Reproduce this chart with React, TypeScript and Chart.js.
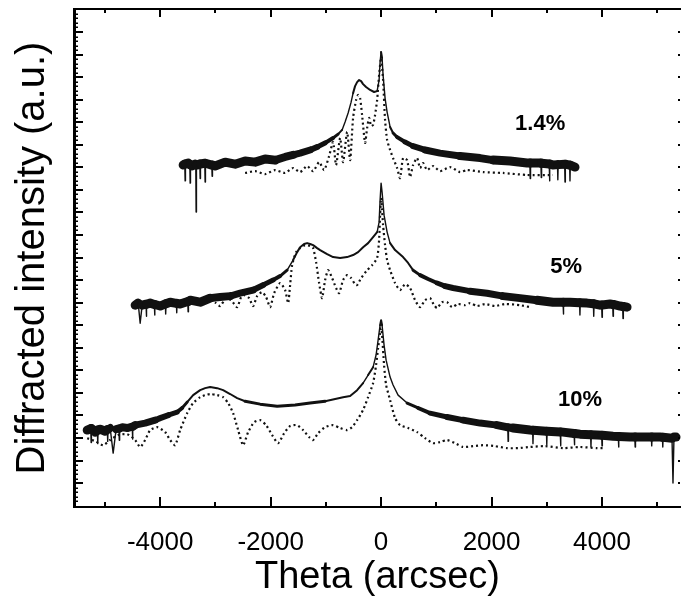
import React, { useEffect, useRef } from "react";
import { Chart, registerables } from "chart.js";

Chart.register(...registerables);

// ---- axis settings ----
const X_MIN = -5560;
const X_MAX = 5430;
const Y_MIN = -0.06;
const Y_MAX = 22.02;
const xMajorTicks = [-4000, -2000, 0, 2000, 4000];
const xMinorTicks = [-5000, -3000, -1000, 1000, 3000, 5000];
const yMajorTicks = [1, 2, 3, 4, 5, 6, 7, 8, 9, 10, 11, 12, 13, 14, 15, 16, 17, 18, 19, 20, 21];

// ---- annotations ----
const seriesLabels = ["1.4%", "5%", "10%"];
const labelTheta = [2880, 3350, 3600];
const labelLevel = [16.92, 10.58, 4.68];

// ---- 1.4% ----
const meas14X = [-3584, -3554, -3548, -3542, -3493, -3463, -3457, -3451, -3421, -3367, -3355, -3349, -3343, -3330, -3282, -3276, -3270, -3192, -3186, -3180, -3065, -3059, -3053, -3005, -2824, -2643, -2462, -2281, -2100, -1919, -1738, -1593, -1466, -1285, -1158, -1014, -869, -778, -706, -652, -597, -543, -507, -471, -434, -398, -362, -326, -272, -199, -127, -72, -36, -18, 0, 18, 36, 72, 109, 163, 217, 290, 434, 579, 796, 1068, 1430, 1792, 2027, 2335, 2643, 2694, 2700, 2706, 2878, 2894, 2900, 2906, 3044, 3050, 3056, 3113, 3194, 3200, 3206, 3324, 3330, 3336, 3414, 3420, 3426, 3511];
const meas14Y = [15.10, 15.15, 14.40, 15.15, 15.19, 15.12, 14.30, 15.12, 15.06, 15.14, 15.12, 13.02, 15.10, 15.10, 15.15, 14.50, 15.15, 15.18, 14.35, 15.18, 15.10, 14.60, 15.10, 15.06, 15.23, 15.14, 15.28, 15.23, 15.37, 15.32, 15.46, 15.55, 15.63, 15.77, 15.90, 16.08, 16.30, 16.47, 16.66, 17.01, 17.41, 17.89, 18.29, 18.60, 18.78, 18.87, 18.82, 18.69, 18.56, 18.43, 18.34, 18.38, 18.87, 19.67, 20.11, 19.85, 19.09, 18.07, 17.45, 16.79, 16.52, 16.34, 16.12, 15.94, 15.77, 15.63, 15.50, 15.41, 15.32, 15.28, 15.19, 15.19, 14.50, 15.19, 15.19, 15.18, 14.55, 15.18, 15.15, 14.40, 15.15, 15.10, 15.12, 14.45, 15.12, 15.14, 14.35, 15.14, 15.10, 14.40, 15.10, 15.01];
const sim14X = [-2462, -2281, -2100, -1919, -1738, -1593, -1466, -1339, -1231, -1122, -1032, -941, -869, -815, -742, -688, -615, -561, -507, -453, -416, -380, -344, -290, -253, -217, -181, -145, -109, -72, -36, 0, 36, 72, 109, 163, 217, 290, 344, 398, 471, 525, 579, 652, 706, 760, 833, 941, 1068, 1249, 1430, 1557, 1846, 2208, 2643, 3113];
const sim14Y = [14.75, 14.83, 14.70, 14.88, 14.75, 14.97, 14.79, 15.06, 14.83, 15.23, 14.88, 15.50, 16.12, 15.10, 16.30, 15.23, 16.57, 15.32, 17.19, 17.98, 18.21, 18.07, 17.32, 16.08, 16.74, 17.19, 16.83, 16.88, 17.32, 17.98, 19.09, 19.85, 18.87, 17.10, 16.21, 15.77, 15.41, 14.97, 14.52, 15.41, 15.32, 14.57, 15.10, 15.41, 14.97, 15.19, 14.88, 15.06, 14.83, 15.01, 14.79, 14.88, 14.79, 14.75, 14.66, 14.66];

// ---- 5% ----
const meas5X = [-4453, -4398, -4362, -4326, -4256, -4250, -4244, -4181, -4106, -4100, -4094, -4000, -3906, -3900, -3894, -3819, -3706, -3700, -3694, -3638, -3500, -3494, -3488, -3457, -3276, -3095, -2914, -2733, -2552, -2317, -2136, -1955, -1828, -1701, -1593, -1520, -1466, -1394, -1339, -1285, -1231, -1158, -1104, -977, -869, -742, -615, -507, -416, -326, -235, -145, -72, -36, -18, 0, 18, 54, 109, 163, 253, 398, 489, 579, 706, 851, 1014, 1158, 1303, 1611, 1919, 2208, 2516, 2824, 3113, 3294, 3300, 3306, 3421, 3594, 3600, 3606, 3729, 3844, 3850, 3856, 3964, 3994, 4000, 4006, 4145, 4194, 4200, 4206, 4326, 4374, 4380, 4386, 4453];
const meas5Y = [8.89, 8.98, 8.09, 8.89, 8.93, 8.40, 8.93, 8.98, 8.92, 8.45, 8.92, 8.85, 8.95, 8.50, 8.95, 9.02, 8.97, 8.55, 8.97, 8.94, 9.05, 8.60, 9.05, 9.11, 9.02, 9.20, 9.25, 9.29, 9.42, 9.56, 9.78, 10.00, 10.18, 10.44, 10.89, 11.24, 11.46, 11.60, 11.64, 11.60, 11.55, 11.42, 11.33, 11.15, 11.02, 10.98, 11.02, 11.11, 11.24, 11.46, 11.64, 11.91, 12.13, 12.57, 13.55, 14.30, 13.90, 12.88, 12.13, 11.64, 11.33, 11.02, 10.76, 10.44, 10.22, 10.05, 9.87, 9.73, 9.65, 9.51, 9.42, 9.29, 9.20, 9.11, 9.02, 9.02, 8.50, 9.02, 9.02, 9.00, 8.45, 9.00, 8.98, 8.95, 8.40, 8.95, 8.89, 8.90, 8.35, 8.90, 8.94, 8.92, 8.40, 8.92, 8.85, 8.83, 8.30, 8.83, 8.80];
const sim5X = [-3095, -2987, -2914, -2806, -2715, -2606, -2534, -2462, -2389, -2317, -2244, -2154, -2082, -2009, -1937, -1828, -1738, -1683, -1647, -1611, -1539, -1466, -1376, -1285, -1231, -1177, -1122, -1068, -1014, -959, -887, -815, -760, -688, -615, -543, -471, -434, -362, -253, -163, -72, -36, -18, 0, 18, 36, 72, 109, 163, 253, 344, 434, 525, 615, 706, 796, 887, 959, 1014, 1104, 1195, 1285, 1394, 1520, 1611, 1738, 1882, 2063, 2244, 2516, 2697];
const sim5Y = [9.11, 8.98, 8.85, 9.20, 9.11, 8.80, 9.25, 9.33, 9.20, 8.85, 9.29, 9.47, 9.25, 8.80, 9.42, 9.87, 9.56, 8.98, 9.78, 10.66, 11.24, 11.42, 11.55, 11.51, 11.42, 10.80, 9.87, 9.20, 10.00, 10.44, 10.09, 9.65, 9.42, 10.00, 10.22, 10.09, 9.82, 9.78, 10.09, 10.44, 10.66, 10.98, 11.78, 12.88, 13.64, 13.11, 12.44, 11.55, 10.89, 10.44, 9.87, 9.56, 9.82, 9.65, 9.11, 8.80, 9.11, 9.20, 8.89, 8.76, 9.02, 9.02, 8.80, 8.94, 8.89, 8.98, 8.85, 8.94, 8.85, 8.94, 8.89, 8.80];

// ---- 10% ----
const meas10X = [-5321, -5256, -5250, -5244, -5177, -5136, -5130, -5124, -5086, -4996, -4956, -4950, -4944, -4905, -4851, -4797, -4746, -4740, -4734, -4688, -4597, -4506, -4500, -4494, -4453, -4272, -4091, -4000, -3855, -3692, -3602, -3511, -3403, -3276, -3186, -3095, -2968, -2860, -2733, -2606, -2462, -2190, -1882, -1557, -1285, -1014, -688, -561, -434, -326, -235, -145, -91, -54, -18, 0, 18, 54, 91, 163, 217, 308, 471, 670, 887, 1195, 1484, 1792, 2100, 2294, 2300, 2306, 2389, 2697, 2744, 2750, 2756, 2994, 3000, 3006, 3244, 3250, 3256, 3294, 3494, 3500, 3506, 3602, 3794, 3800, 3806, 3910, 3994, 4000, 4006, 4199, 4294, 4300, 4306, 4507, 4594, 4600, 4606, 4778, 4894, 4900, 4906, 5050, 5094, 5100, 5106, 5267, 5285, 5303, 5340];
const meas10Y = [3.35, 3.42, 2.80, 3.42, 3.26, 3.35, 2.75, 3.35, 3.39, 3.30, 3.38, 2.85, 3.38, 3.44, 2.33, 3.39, 3.42, 2.90, 3.42, 3.48, 3.44, 3.50, 2.95, 3.50, 3.57, 3.66, 3.79, 3.88, 4.01, 4.15, 4.33, 4.59, 4.90, 5.12, 5.21, 5.26, 5.21, 5.12, 4.95, 4.77, 4.63, 4.50, 4.41, 4.46, 4.55, 4.63, 4.81, 4.86, 5.12, 5.43, 5.79, 6.14, 6.68, 7.34, 8.00, 8.22, 8.00, 7.12, 6.45, 5.70, 5.35, 4.90, 4.55, 4.33, 4.10, 3.93, 3.79, 3.66, 3.57, 3.47, 2.85, 3.47, 3.44, 3.35, 3.34, 2.75, 3.34, 3.30, 2.70, 3.30, 3.27, 2.65, 3.27, 3.26, 3.20, 2.70, 3.20, 3.17, 3.14, 2.60, 3.14, 3.13, 3.12, 2.65, 3.12, 3.08, 3.07, 2.60, 3.07, 3.04, 3.04, 2.60, 3.04, 3.04, 3.04, 2.65, 3.04, 3.04, 3.03, 2.60, 3.03, 2.99, 1.00, 3.04, 3.04];
const sim10X = [-5321, -5177, -5032, -4905, -4760, -4597, -4453, -4362, -4272, -4181, -4054, -3910, -3819, -3729, -3638, -3511, -3403, -3276, -3186, -3095, -2968, -2860, -2769, -2679, -2588, -2498, -2407, -2299, -2190, -2082, -1973, -1864, -1756, -1647, -1520, -1412, -1303, -1231, -1140, -1014, -869, -742, -615, -525, -434, -326, -235, -145, -91, -54, -18, 0, 18, 54, 91, 163, 253, 344, 489, 652, 796, 941, 1068, 1195, 1339, 1484, 1665, 1846, 2063, 2281, 2480, 2697, 2968, 3294, 3602, 3910, 4054];
const sim10Y = [2.99, 2.86, 2.68, 2.91, 3.13, 3.17, 2.91, 2.60, 2.91, 3.35, 3.48, 3.26, 2.91, 2.68, 3.35, 4.10, 4.55, 4.81, 4.90, 4.95, 4.90, 4.81, 4.55, 4.10, 3.35, 2.68, 3.26, 3.70, 3.79, 3.57, 3.13, 2.77, 3.21, 3.53, 3.57, 3.35, 3.04, 2.91, 3.21, 3.48, 3.57, 3.44, 3.35, 3.48, 3.79, 4.24, 4.81, 5.43, 6.23, 6.99, 7.65, 7.87, 7.56, 6.23, 5.35, 4.68, 3.88, 3.57, 3.44, 3.26, 2.99, 2.77, 2.82, 2.91, 2.77, 2.60, 2.64, 2.68, 2.64, 2.55, 2.55, 2.60, 2.64, 2.55, 2.60, 2.55, 2.55];

const FONT = "'Liberation Sans', Arial, Helvetica, sans-serif";

function pts(xs: number[], ys: number[]) {
  return xs.map((x, i) => ({ x, y: ys[i] }));
}

function noisyWidth(base: number) {
  return (ctx: any) => {
    const y0 = ctx.p0.parsed.y;
    const y1 = ctx.p1.parsed.y;
    if (Math.abs(y1 - y0) > 0.35) return 1.4;
    const v = (y0 + y1) / 2;
    const w = 9.5 - 5 * (v - base);
    return Math.max(2, Math.min(9, Math.round(w)));
  };
}

function measured(xs: number[], ys: number[], base: number) {
  return {
    data: pts(xs, ys),
    borderColor: "#111",
    borderWidth: 2,
    borderJoinStyle: "round" as const,
    borderCapStyle: "round" as const,
    pointRadius: 0,
    tension: 0,
    segment: { borderWidth: noisyWidth(base) },
  };
}

function simulated(xs: number[], ys: number[]) {
  return {
    data: pts(xs, ys),
    borderColor: "#111",
    borderWidth: 2.2,
    borderDash: [2, 3],
    pointRadius: 0,
    tension: 0.2,
  };
}

const framePlugin = {
  id: "frameTicks",
  afterDraw(chart: any) {
    const { ctx, chartArea, scales } = chart;
    const { left, right, top, bottom } = chartArea;
    const x = scales.x;
    const y = scales.y;
    ctx.save();
    ctx.strokeStyle = "#000";
    ctx.fillStyle = "#000";
    ctx.lineWidth = 3;
    ctx.beginPath();
    ctx.moveTo(left + 0.5, top - 1);
    ctx.lineTo(left + 0.5, bottom + 1);
    ctx.stroke();
    ctx.lineWidth = 2;
    ctx.beginPath();
    ctx.moveTo(left, bottom);
    ctx.lineTo(right, bottom);
    ctx.moveTo(left, top);
    ctx.lineTo(right, top);
    ctx.stroke();
    ctx.lineWidth = 2;
    ctx.beginPath();
    xMajorTicks.forEach((v) => {
      const px = Math.round(x.getPixelForValue(v));
      ctx.moveTo(px, bottom);
      ctx.lineTo(px, bottom - 10);
      ctx.moveTo(px, top);
      ctx.lineTo(px, top + 8);
    });
    xMinorTicks.forEach((v) => {
      const px = Math.round(x.getPixelForValue(v));
      ctx.moveTo(px, bottom);
      ctx.lineTo(px, bottom - 5);
      ctx.moveTo(px, top);
      ctx.lineTo(px, top + 4);
    });
    ctx.stroke();
    ctx.beginPath();
    yMajorTicks.forEach((v) => {
      const py = Math.round(y.getPixelForValue(v));
      ctx.moveTo(left, py);
      ctx.lineTo(left + 9, py);
      ctx.moveTo(right - 3, py);
      ctx.lineTo(right - 1, py);
    });
    ctx.stroke();
    ctx.lineWidth = 1.5;
    ctx.beginPath();
    for (let i = 0; i <= yMajorTicks.length; i++) {
      const base = i === 0 ? yMajorTicks[0] - 1 : yMajorTicks[i - 1];
      for (let k = 1; k < 5; k++) {
        const v = base + k * 0.2;
        if (v <= Y_MIN || v >= Y_MAX) continue;
        const py = Math.round(y.getPixelForValue(v)) + 0.25;
        ctx.moveTo(left, py);
        ctx.lineTo(left + 4, py);
      }
    }
    ctx.stroke();
    ctx.font = `bold 22px ${FONT}`;
    ctx.textAlign = "center";
    ctx.textBaseline = "middle";
    seriesLabels.forEach((t, i) => {
      ctx.fillText(t, x.getPixelForValue(labelTheta[i]), y.getPixelForValue(labelLevel[i]));
    });
    ctx.restore();
  },
};

export default function App() {
  const ref = useRef<HTMLCanvasElement | null>(null);
  useEffect(() => {
    if (!ref.current) return;
    const chart = new Chart(ref.current, {
      type: "line",
      data: {
        datasets: [
          simulated(sim14X, sim14Y),
          measured(meas14X, meas14Y, 15.15),
          simulated(sim5X, sim5Y),
          measured(meas5X, meas5Y, 8.95),
          simulated(sim10X, sim10Y),
          measured(meas10X, meas10Y, 3.2),
        ] as any,
      },
      options: {
        responsive: false,
        animation: false,
        layout: { padding: { top: 9, right: 0, left: 0, bottom: 0 } },
        plugins: { legend: { display: false }, tooltip: { enabled: false } },
        scales: {
          x: {
            type: "linear",
            min: X_MIN,
            max: X_MAX,
            afterBuildTicks: (axis: any) => {
              axis.ticks = xMajorTicks.map((v) => ({ value: v }));
            },
            afterFit: (axis: any) => {
              axis.height = 93;
            },
            grid: { display: false, drawTicks: false },
            border: { display: false },
            ticks: {
              autoSkip: false,
              maxRotation: 0,
              padding: 20,
              color: "#000",
              font: { family: FONT, size: 26 },
              callback: (v: any) => String(v),
            },
            title: {
              display: true,
              text: "Theta (arcsec)",
              color: "#000",
              font: { family: FONT, size: 38 },
              padding: { top: 0, bottom: 0 },
            },
          },
          y: {
            type: "linear",
            min: Y_MIN,
            max: Y_MAX,
            afterFit: (axis: any) => {
              axis.width = 74;
            },
            grid: { display: false, drawTicks: false },
            border: { display: false },
            ticks: { display: false },
            title: {
              display: true,
              text: "Diffracted intensity (a.u.)",
              color: "#000",
              font: { family: FONT, size: 40 },
              padding: { top: 9, bottom: 0 },
            },
          },
        },
      } as any,
      plugins: [framePlugin],
    });
    return () => chart.destroy();
  }, []);
  return (
    <div style={{ position: "absolute", left: 0, top: 0, width: 681, height: 600, background: "#fff" }}>
      <canvas ref={ref} width={681} height={600} style={{ display: "block", width: 681, height: 600 }} />
    </div>
  );
}
